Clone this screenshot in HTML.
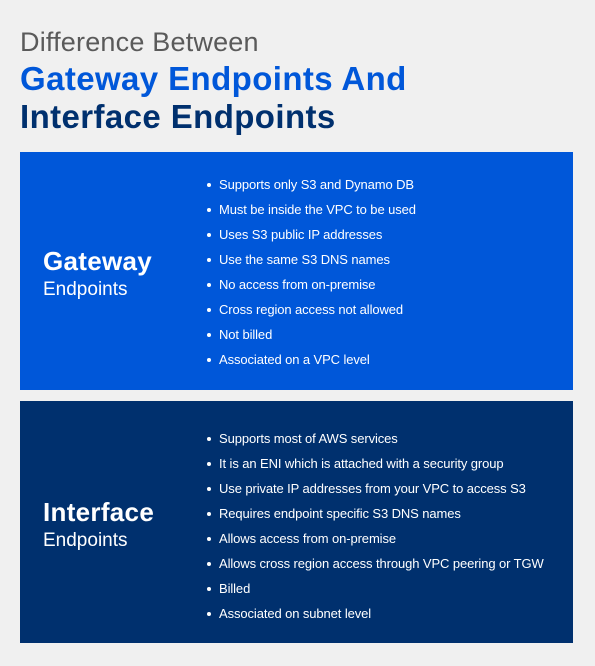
<!DOCTYPE html>
<html><head><meta charset="utf-8"><style>
*{margin:0;padding:0;box-sizing:border-box}
body{width:595px;height:666px;background:#f0f0f0;font-family:"Liberation Sans",Arial,sans-serif;position:relative;overflow:hidden}
.t{position:absolute;left:20px;white-space:nowrap}
.box{position:absolute;left:20px;width:553px}
.lbl{position:absolute;left:23px;color:#fff}
.lbl b{display:block;font-size:26px;font-weight:bold;letter-spacing:0.3px}
.lbl span{display:block;font-size:19px;margin-top:2px}
ul{position:absolute;left:187px;list-style:none;color:#fff;font-size:13px;letter-spacing:-0.1px}
li{height:25px;line-height:25px;position:relative;padding-left:12px;white-space:nowrap}
li:before{content:"";position:absolute;left:0;top:11px;width:4px;height:4px;border-radius:50%;background:#fff}
</style></head><body>
<div class="t" style="top:27px;font-size:27px;color:#5a5a5a;letter-spacing:0.2px">Difference Between</div>
<div class="t" style="top:60px;font-size:33px;font-weight:bold;color:#0057d9;letter-spacing:0.4px">Gateway Endpoints And</div>
<div class="t" style="top:98px;font-size:33px;font-weight:bold;color:#00306e;letter-spacing:0.4px">Interface Endpoints</div>

<div class="box" style="top:152px;height:238px;background:#0057d9">
<div class="lbl" style="top:94px"><b>Gateway</b><span>Endpoints</span></div>
<ul style="top:20px">
<li>Supports only S3 and Dynamo DB</li>
<li>Must be inside the VPC to be used</li>
<li>Uses S3 public IP addresses</li>
<li>Use the same S3 DNS names</li>
<li>No access from on-premise</li>
<li>Cross region access not allowed</li>
<li>Not billed</li>
<li>Associated on a VPC level</li>
</ul></div>

<div class="box" style="top:401px;height:242px;background:#00306e">
<div class="lbl" style="top:96px"><b>Interface</b><span>Endpoints</span></div>
<ul style="top:25px">
<li>Supports most of AWS services</li>
<li>It is an ENI which is attached with a security group</li>
<li>Use private IP addresses from your VPC to access S3</li>
<li>Requires endpoint specific S3 DNS names</li>
<li>Allows access from on-premise</li>
<li>Allows cross region access through VPC peering or TGW</li>
<li>Billed</li>
<li>Associated on subnet level</li>
</ul></div>
</body></html>
